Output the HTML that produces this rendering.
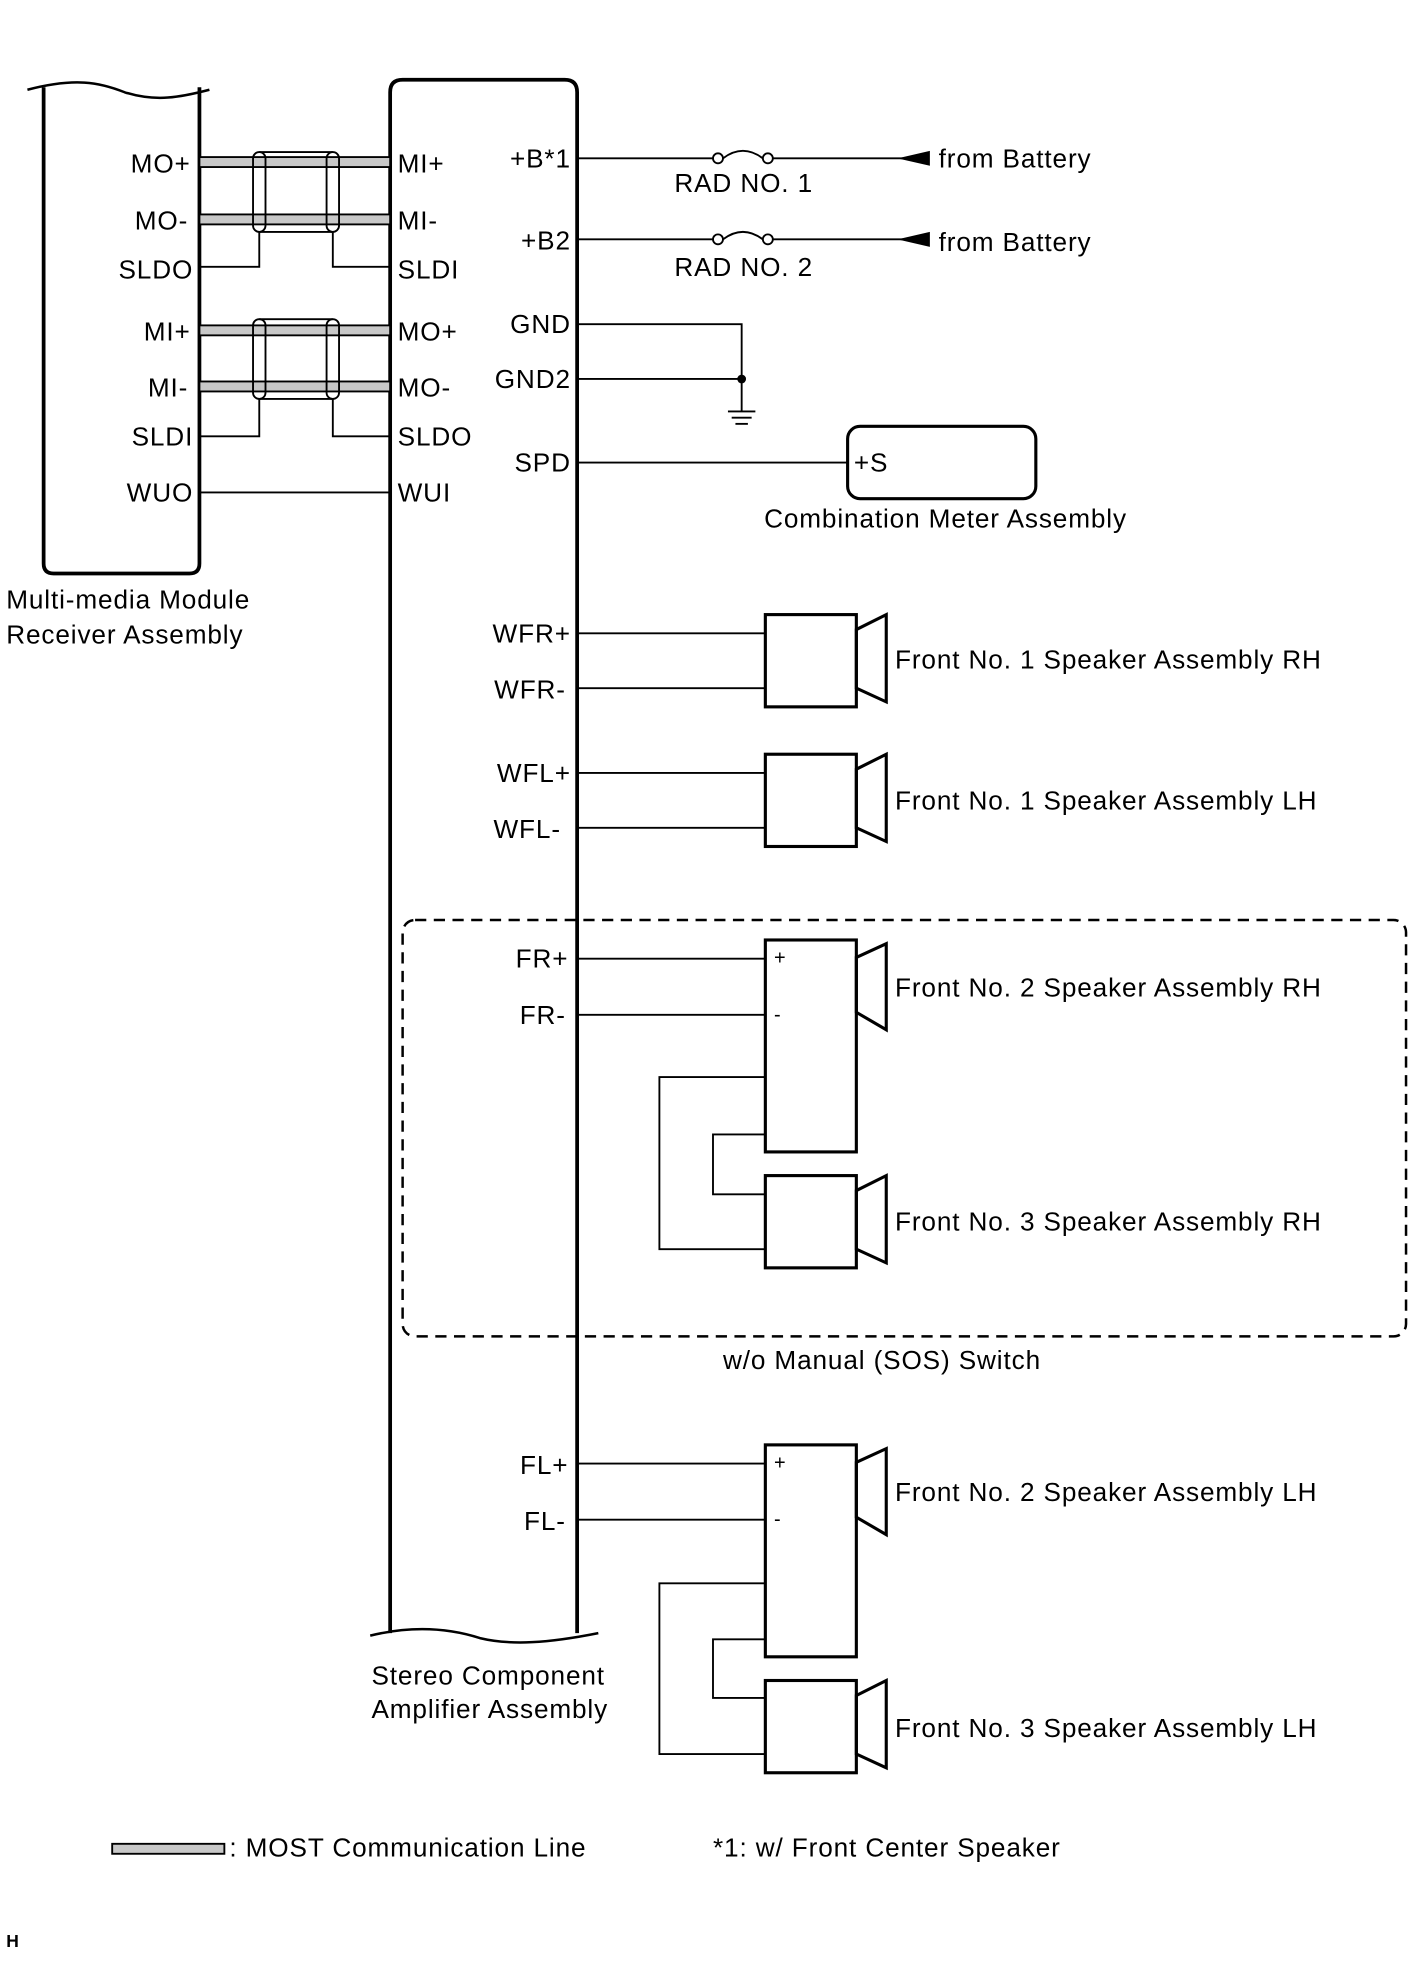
<!DOCTYPE html>
<html><head><meta charset="utf-8"><style>html,body{margin:0;padding:0;background:#fff}svg{display:block}</style></head><body>
<svg width="1421" height="1961" viewBox="0 0 1140 1573" preserveAspectRatio="none" xmlns="http://www.w3.org/2000/svg" font-family="Liberation Sans, sans-serif" font-size="21" letter-spacing="0.7" fill="#000">
<g fill="none" stroke="#000">
<path d="M22 72 C60 62 80 66 100 74 C125 82 145 78 168 72" stroke-width="2"/>
<path d="M35 70 V452 Q35 460 43 460 H152 Q160 460 160 452 V70" stroke-width="3"/>
<path d="M313 1310 V74 Q313 64 323 64 H453 Q463 64 463 74 V1310" stroke-width="3"/>
<path d="M297 1312 C330 1304 360 1306 385 1314 C410 1320 440 1318 480 1310" stroke-width="2"/>
<g stroke-width="1.5">
<rect x="160" y="126" width="153" height="8" fill="#c8c8c8"/>
<rect x="160" y="172" width="153" height="8" fill="#c8c8c8"/>
<rect x="160" y="261" width="153" height="8" fill="#c8c8c8"/>
<rect x="160" y="306" width="153" height="8" fill="#c8c8c8"/>
<rect x="203" y="122" width="10" height="64" rx="5"/>
<rect x="262" y="122" width="10" height="64" rx="5"/>
<line x1="208" y1="122" x2="267" y2="122"/><line x1="208" y1="186" x2="267" y2="186"/>
<polyline points="208,186 208,214 160,214"/><polyline points="267,186 267,214 313,214"/>
<rect x="203" y="256" width="10" height="64" rx="5"/>
<rect x="262" y="256" width="10" height="64" rx="5"/>
<line x1="208" y1="256" x2="267" y2="256"/><line x1="208" y1="320" x2="267" y2="320"/>
<polyline points="208,320 208,350 160,350"/><polyline points="267,320 267,350 313,350"/>
<line x1="160" y1="395" x2="313" y2="395"/>
<line x1="463" y1="127" x2="572" y2="127"/><line x1="620" y1="127" x2="745" y2="127"/>
<circle cx="576" cy="127" r="4"/><circle cx="616" cy="127" r="4"/><path d="M580 127 Q596 115 612 127"/>
<line x1="463" y1="192" x2="572" y2="192"/><line x1="620" y1="192" x2="745" y2="192"/>
<circle cx="576" cy="192" r="4"/><circle cx="616" cy="192" r="4"/><path d="M580 192 Q596 180 612 192"/>
<polyline points="463,260 595,260 595,330"/>
<line x1="463" y1="304" x2="595" y2="304"/>
<line x1="584" y1="330" x2="606" y2="330"/><line x1="587" y1="335" x2="603" y2="335"/><line x1="590" y1="340" x2="600" y2="340"/>
<line x1="463" y1="371" x2="680" y2="371"/>
<rect x="680" y="342" width="151" height="58" rx="10" stroke-width="2.5"/>
<line x1="463" y1="508" x2="614" y2="508"/><line x1="463" y1="552" x2="614" y2="552"/>
<line x1="463" y1="620" x2="614" y2="620"/><line x1="463" y1="664" x2="614" y2="664"/>
<line x1="463" y1="769" x2="614" y2="769"/><line x1="463" y1="814" x2="614" y2="814"/>
<polyline points="614,864 529,864 529,1002 614,1002"/>
<polyline points="614,910 572,910 572,958 614,958"/>
<line x1="463" y1="1174" x2="614" y2="1174"/><line x1="463" y1="1219" x2="614" y2="1219"/>
<polyline points="614,1270 529,1270 529,1407 614,1407"/>
<polyline points="614,1315 572,1315 572,1362 614,1362"/>
</g>
<g stroke-width="2.5">
<rect x="614" y="493" width="73" height="74"/><polygon points="687,505 711,493 711,563 687,552"/>
<rect x="614" y="605" width="73" height="74"/><polygon points="687,617 711,605 711,675 687,664"/>
<rect x="614" y="754" width="73" height="170"/><polygon points="687,768 711,757 711,826 687,812"/>
<rect x="614" y="943" width="73" height="74"/><polygon points="687,955 711,943 711,1013 687,1002"/>
<rect x="614" y="1159" width="73" height="170"/><polygon points="687,1173 711,1162 711,1231 687,1217"/>
<rect x="614" y="1348" width="73" height="74"/><polygon points="687,1360 711,1348 711,1418 687,1407"/>
</g>
<rect x="323" y="738" width="805" height="334" rx="10" stroke-width="2" stroke-dasharray="9,6"/>
<rect x="90" y="1479" width="90" height="8" fill="#c8c8c8" stroke-width="1.5"/>
</g>
<polygon points="720,127 746,121 746,133"/><polygon points="720,192 746,186 746,198"/>
<circle cx="595" cy="304" r="3.5"/>
<g dominant-baseline="central">
<g text-anchor="end">
<text x="153" y="131">MO+</text><text x="151" y="177">MO-</text><text x="155" y="216">SLDO</text>
<text x="153" y="266">MI+</text><text x="151" y="311">MI-</text><text x="155" y="350">SLDI</text><text x="155" y="395">WUO</text>
<text x="458" y="127">+B*1</text><text x="458" y="193">+B2</text><text x="458" y="260">GND</text><text x="458" y="304">GND2</text><text x="458" y="371">SPD</text>
<text x="458" y="508">WFR+</text><text x="454" y="553">WFR-</text><text x="458" y="620">WFL+</text><text x="450" y="665">WFL-</text>
<text x="456" y="769">FR+</text><text x="454" y="814">FR-</text><text x="456" y="1175">FL+</text><text x="454" y="1220">FL-</text>
</g>
<text x="319" y="131">MI+</text><text x="319" y="177">MI-</text><text x="319" y="216">SLDI</text>
<text x="319" y="266">MO+</text><text x="319" y="311">MO-</text><text x="319" y="350">SLDO</text><text x="319" y="395">WUI</text>
<text x="541" y="147">RAD NO. 1</text><text x="541" y="214">RAD NO. 2</text>
<text x="753" y="127">from Battery</text><text x="753" y="194">from Battery</text>
<text x="685" y="371">+S</text><text x="613" y="416">Combination Meter Assembly</text>
<text x="5" y="481">Multi-media Module</text><text x="5" y="509">Receiver Assembly</text>
<text x="718" y="529">Front No. 1 Speaker Assembly RH</text>
<text x="718" y="642">Front No. 1 Speaker Assembly LH</text>
<text x="718" y="792">Front No. 2 Speaker Assembly RH</text>
<text x="718" y="980">Front No. 3 Speaker Assembly RH</text>
<text x="718" y="1197">Front No. 2 Speaker Assembly LH</text>
<text x="718" y="1386">Front No. 3 Speaker Assembly LH</text>
<text x="580" y="1091">w/o Manual (SOS) Switch</text>
<text x="298" y="1344">Stereo Component</text><text x="298" y="1371">Amplifier Assembly</text>
<text x="184" y="1482">: MOST Communication Line</text><text x="572" y="1482">*1: w/ Front Center Speaker</text>
<text x="621" y="769" font-size="16">+</text><text x="621" y="814" font-size="16">-</text>
<text x="621" y="1174" font-size="16">+</text><text x="621" y="1219" font-size="16">-</text>
<text x="5" y="1557" font-size="14" font-weight="bold">H</text>
</g>
</svg>
</body></html>
